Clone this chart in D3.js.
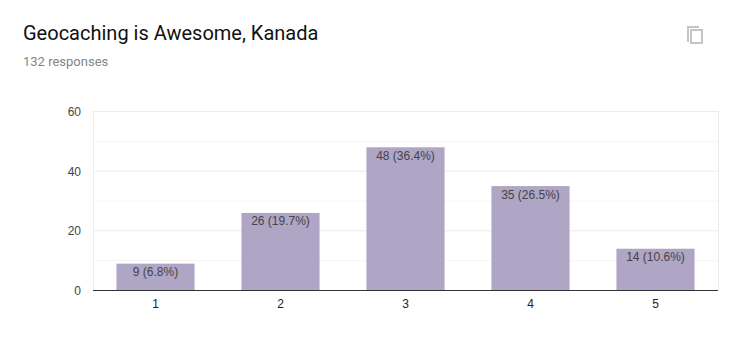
<!DOCTYPE html>
<html><head><meta charset="utf-8">
<script src="https://cdn.jsdelivr.net/npm/d3@7/dist/d3.min.js"></script>
<style>html,body{margin:0;padding:0;background:#fff}svg{display:block}text{font-family:Roboto,sans-serif}</style>
</head><body><div id="c"></div>
<script>
const categories = ["1","2","3","4","5"];
const counts = [9,26,48,35,14];
const percents = ["6.8","19.7","36.4","26.5","10.6"];
const yTicks = [0,20,40,60];
const yMinor = [10,30,50];
const title = "Geocaching is Awesome, Kanada";
const subtitle = "132 responses";
const chartFont = "'Liberation Sans',Arial,sans-serif";

const svg = d3.select("#c").append("svg").attr("width",744).attr("height",360);
const x = d3.scaleBand().domain(categories).range([93,718]).paddingInner(0.375).paddingOuter(0.1875);
const y = d3.scaleLinear().domain([0,60]).range([290.5,111.5]);

svg.append("text").attr("x",23).attr("y",40).attr("font-size",20).attr("fill","#111").text(title);
svg.append("text").attr("x",23).attr("y",66).attr("font-size",13).attr("fill","#80868b").text(subtitle);

// copy icon
const ic = svg.append("g").attr("fill","none").attr("stroke","#c4c4c4").attr("stroke-width",2);
ic.append("path").attr("d","M688 42V27H699");
ic.append("rect").attr("x",691).attr("y",30).attr("width",11).attr("height",13);

svg.append("g").selectAll("line").data(yMinor).join("line")
  .attr("x1",93).attr("x2",718).attr("y1",d=>y(d)).attr("y2",d=>y(d)).attr("stroke","#f5f5f5");
svg.append("g").selectAll("line").data(yTicks.slice(1)).join("line")
  .attr("x1",93).attr("x2",718).attr("y1",d=>y(d)).attr("y2",d=>y(d)).attr("stroke","#ebebeb");
svg.append("line").attr("x1",93.5).attr("x2",93.5).attr("y1",111).attr("y2",290).attr("stroke","#ebebeb");
svg.append("line").attr("x1",718.5).attr("x2",718.5).attr("y1",111).attr("y2",290).attr("stroke","#ebebeb");

svg.append("g").selectAll("rect").data(categories).join("rect")
  .attr("x",d=>x(d)).attr("width",x.bandwidth())
  .attr("y",(d,i)=>y(counts[i])).attr("height",(d,i)=>y(0)-y(counts[i]))
  .attr("fill","#afa5c4");

svg.append("g").selectAll("text").data(categories).join("text")
  .attr("x",d=>x(d)+x.bandwidth()/2).attr("y",(d,i)=>y(counts[i])+12.5)
  .attr("text-anchor","middle").attr("font-size",12).attr("fill","#444")
  .style("font-family",chartFont)
  .text((d,i)=>`${counts[i]} (${percents[i]}%)`);

svg.append("line").attr("x1",93).attr("x2",718).attr("y1",290.5).attr("y2",290.5).attr("stroke","#333");

const ax = svg.append("g").attr("transform","translate(0,290)")
  .call(d3.axisBottom(x).tickSize(0).tickPadding(9));
ax.select(".domain").remove();
ax.selectAll("text").attr("font-size",12).style("font-family",chartFont).attr("fill","#222");

const ay = svg.append("g").attr("transform","translate(81,0)")
  .call(d3.axisLeft(y).tickValues(yTicks).tickSize(0).tickPadding(0));
ay.select(".domain").remove();
ay.selectAll("text").attr("font-size",12).style("font-family",chartFont).attr("fill","#444");
</script></body></html>
